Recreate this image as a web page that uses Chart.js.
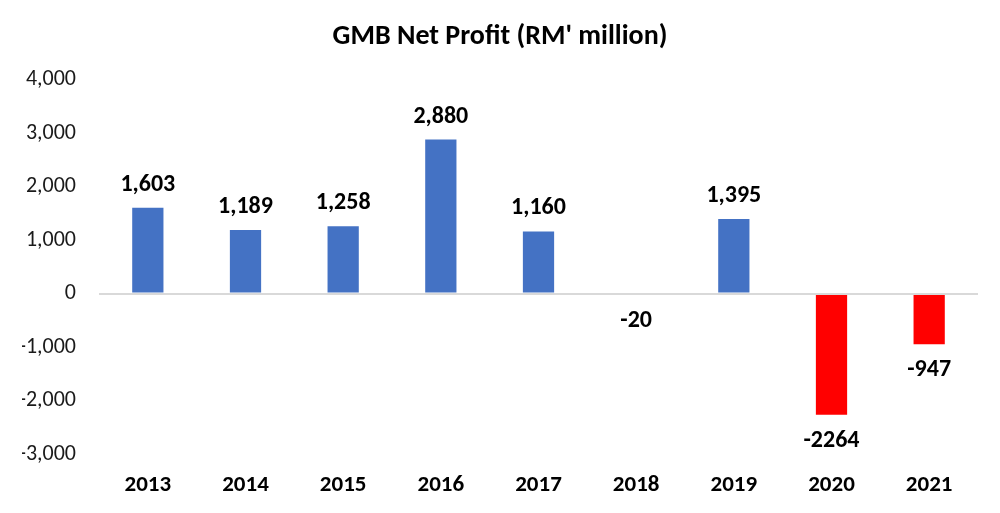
<!DOCTYPE html>
<html>
<head>
<meta charset="utf-8">
<script src="https://cdn.jsdelivr.net/npm/chart.js@4.4.1/dist/chart.umd.min.js"></script>
<style>
  html, body { margin: 0; padding: 0; background: #fff; }
  #wrap { width: 1000px; height: 513px; }
</style>
</head>
<body>
<div id="wrap"><canvas id="Chart"></canvas></div>
<script>
// chart data
const years = ['2013', '2014', '2015', '2016', '2017', '2018', '2019', '2020', '2021'];
const netProfit = [1603, 1189, 1258, 2880, 1160, -20, 1395, -2264, -947];
const yTicks = [-3000, -2000, -1000, 0, 1000, 2000, 3000, 4000];

const FONT = 'Carlito, Lato, "Open Sans", sans-serif';
const BLUE = '#4472C4';
const RED = '#FF0000';

// Excel-like labels: commas on positives, plain on negatives
function labelFor(v) {
  return v >= 0 ? v.toLocaleString('en-US') : String(v);
}

// draw value labels above / below each bar
const barLabels = {
  id: 'barLabels',
  afterDatasetsDraw(chart) {
    const ctx = chart.ctx;
    const meta = chart.getDatasetMeta(0);
    ctx.save();
    ctx.font = 'bold 24px ' + FONT;
    ctx.fillStyle = '#000';
    ctx.textAlign = 'center';
    ctx.textBaseline = 'middle';
    meta.data.forEach((bar, i) => {
      const v = netProfit[i];
      const y = v >= 0 ? bar.y - 23 : bar.y + 26;
      ctx.fillText(labelFor(v), bar.x, y);
    });
    ctx.restore();
  }
};

new Chart(document.getElementById('Chart'), {
  type: 'bar',
  data: {
    labels: years,
    datasets: [{
      data: netProfit,
      backgroundColor: netProfit.map(v => v < 0 ? RED : BLUE),
      barPercentage: 0.32,
      categoryPercentage: 1
    }]
  },
  options: {
    responsive: true,
    maintainAspectRatio: false,
    animation: false,
    // left/right padding kept equal so the title sits at the page centre
    layout: { padding: { top: 0, right: 22, bottom: -4, left: 22 } },
    plugins: {
      legend: { display: false },
      tooltip: { enabled: false },
      title: {
        display: true,
        text: "GMB Net Profit (RM' million)",
        color: '#000',
        font: { family: FONT, size: 28, weight: 'bold' },
        padding: { top: 20, bottom: 26 }
      }
    },
    scales: {
      x: {
        grid: { display: false, drawTicks: false },
        border: { display: false },
        ticks: {
          color: '#000',
          font: { family: FONT, size: 23, weight: 'bold', lineHeight: 1 },
          padding: 20,
          maxRotation: 0
        }
      },
      y: {
        min: -3000,
        max: 4000,
        afterBuildTicks(axis) { axis.ticks = yTicks.map(v => ({ value: v })); },
        afterFit(axis) { axis.width = 77; },
        border: { display: false },
        grid: {
          z: 1,
          drawTicks: false,
          lineWidth: 2,
          color: c => c.tick && c.tick.value === 0 ? '#D9D9D9' : 'rgba(0,0,0,0)'
        },
        ticks: {
          color: '#1a1a1a',
          font: { family: FONT, size: 22 },
          padding: 23,
          callback: v => v.toLocaleString('en-US')
        }
      }
    }
  },
  plugins: [barLabels]
});
</script>
</body>
</html>
